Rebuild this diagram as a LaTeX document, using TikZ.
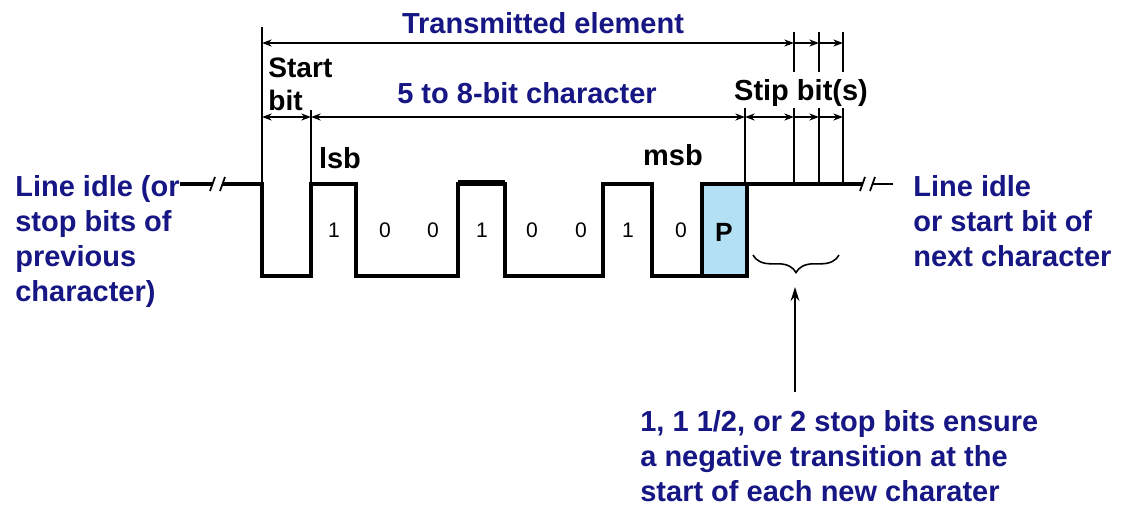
\documentclass[tikz,border=0pt]{standalone}
\usepackage{fontspec}
\setmainfont{Liberation Sans}
\usetikzlibrary{arrows.meta,positioning,decorations.pathreplacing}
\definecolor{navytext}{RGB}{22,22,132}
\definecolor{parityfill}{RGB}{180,224,246}
\newcommand{\diagfont}{\fontsize{16.5}{19.9}\selectfont\bfseries}

\begin{document}
\begin{tikzpicture}[x=0.02cm, y=-0.02cm, >={Stealth[length=5.5pt,width=4pt]}]
    % Styles
    \tikzstyle{title} = [text=navytext, font=\diagfont, inner sep=0pt]
    \tikzstyle{note} = [text=navytext, font=\diagfont, align=left, inner sep=0pt, anchor=north west]
    \tikzstyle{tag} = [font=\diagfont, inner sep=0pt]
    \tikzstyle{bitval} = [font=\fontsize{12}{14}\selectfont, inner sep=0pt]
    \tikzstyle{signal} = [draw, line width=2.3pt]
    \tikzstyle{guide} = [draw, line width=0.6pt]
    \tikzstyle{dim} = [draw, line width=0.9pt]

    \useasboundingbox (0,0) rectangle (1124,505);

    % Coordinates
    \coordinate (start) at (262,184);
    \coordinate (t0) at (262,43);
    \coordinate (t1) at (794,43);
    \coordinate (t2) at (819,43);
    \coordinate (t3) at (843,43);
    \coordinate (c0) at (262,117);
    \coordinate (c1) at (311,117);
    \coordinate (c2) at (745,117);
    \coordinate (c3) at (794,117);
    \coordinate (c4) at (819,117);
    \coordinate (c5) at (843,117);
    \coordinate (brl) at (753,255);
    \coordinate (brr) at (839,255);
    \coordinate (brtip) at (795,287);
    \coordinate (notetop) at (795,392);

    % Waveform
    \fill [parityfill] (702,184) rectangle (747,276);
    \draw [line width=1.8pt] (180,184) -- (213,184);
    \foreach \x in {213,223}
        \draw [line width=1pt] (\x-3,191) -- (\x+2,177);
    \draw [signal] (223,184) -- (start) -- (262,276) -- (311,276) -- (311,184) -- (356,184)
        -- (356,276) -- (458,276) -- (458,184) -- (505,184) -- (505,276) -- (603,276)
        -- (603,184) -- (652,184) -- (652,276) -- (702,276) -- (702,184) -- (862,184);
    \draw [signal] (747,184) -- (747,276) -- (702,276);
    \draw [line width=3.5pt] (458,183) -- (505,183);
    \foreach \x in {863,873}
        \draw [line width=1pt] (\x-3,191) -- (\x+2,177);
    \draw [line width=1.3pt] (873,184) -- (893,184);

    % Guides
    \draw [guide] (262,27) -- (start);
    \draw [guide] (311,110) -- (311,184);
    \draw [guide] (745,108) -- (745,184);
    \foreach \x in {794,819,843} {
        \draw [guide] (\x,32) -- (\x,72);
        \draw [guide] (\x,108) -- (\x,184);
    }

    % Dimensions
    \draw [dim, <->] (t0) -- (t1);
    \draw [dim, ->] (t1) -- (t2);
    \draw [dim, ->] (t2) -- (t3);
    \draw [dim, <->] (c0) -- (c1);
    \draw [dim, <->] (c1) -- (c2);
    \draw [dim, <->] (c2) -- (c3);
    \draw [dim, ->] (c3) -- (c4);
    \draw [dim, ->] (c4) -- (c5);

    % Labels
    \node [title, anchor=base] (elem) at (543,33) {Transmitted element};
    \node [title, anchor=base] (charlbl) at (527,103) {5 to 8-bit character};
    \node [tag, anchor=north west, align=left, font=\fontsize{16}{18.7}\selectfont\bfseries] (startlbl) at (268,58) {Start\\bit};
    \node [tag, anchor=base] (stoplbl) at (801,100) {Stip bit(s)};
    \node [tag, anchor=base] (lsb) at (340,168) {lsb};
    \node [tag, anchor=base] (msb) at (673,165) {msb};
    \foreach \x/\b [count=\i] in {334/1,385/0,433/0,482/1,532/0,581/0,628/1,681/0}
        \node [bitval] (bit\i) at (\x,230) {\b};
    \node [font=\fontsize{15}{17}\selectfont\bfseries] (par) at (724,232) {P};

    % Notes
    \node [note] (idleL) at (15,175) {Line idle (or\\stop bits of\\previous\\character)};
    \node [note] (idleR) at (913,175) {Line idle\\or start bit of\\next character};
    \node [note] (stopnote) at (640,410) {1, 1 1/2, or 2 stop bits ensure\\a negative transition at the\\start of each new charater};

    % Brace and pointer
    \draw [line width=0.9pt, decorate, decoration={brace, mirror, amplitude=10pt}] (brl) -- (brr);
    \draw [->, >={Stealth[length=8pt,width=5pt]}, line width=1.1pt] (notetop) -- (brtip);

\end{tikzpicture}
\end{document}
